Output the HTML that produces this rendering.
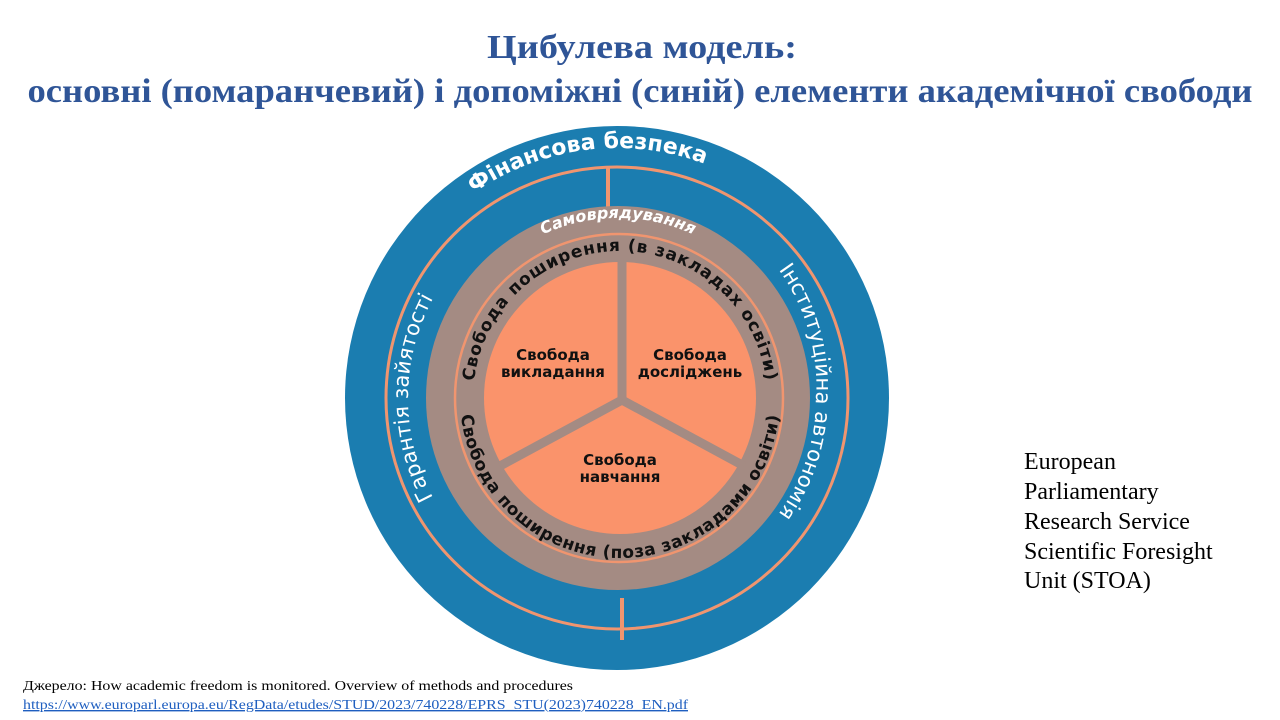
<!DOCTYPE html>
<html><head><meta charset="utf-8"><style>
html,body{margin:0;padding:0;background:#fff;}
svg{display:block}
</style></head><body>
<svg width="1280" height="720" viewBox="0 0 1280 720" xmlns="http://www.w3.org/2000/svg">
<defs>
  <path id="pFin" d="M 367 398 A 250 250 0 0 1 867 398"/>
  <path id="pGar" d="M 618 608 A 210 210 0 0 1 408 398 A 210 210 0 0 1 618 188"/>
  <path id="pInst" d="M 618 188 A 198 198 0 0 1 816 398 A 198 198 0 0 1 618 596"/>
  <path id="pSam" d="M 438 398 A 178 178 0 0 1 798 398"/>
  <path id="pTop" d="M 620 545 A 147 147 0 0 1 620 251 A 147 147 0 0 1 620 545"/>
  <path id="pBot" d="M 620 238 A 160 160 0 0 0 620 558 A 160 160 0 0 0 620 238"/>
</defs>
<g font-family="Liberation Serif, serif" font-weight="bold" fill="#2f5597">
  <text x="642" y="58" font-size="34" text-anchor="middle" textLength="310" lengthAdjust="spacingAndGlyphs">Цибулева модель:</text>
  <text x="640" y="102" font-size="34" text-anchor="middle" textLength="1225" lengthAdjust="spacingAndGlyphs">основні (помаранчевий) і допоміжні (синій) елементи академічної свободи</text>
</g>
<circle cx="617" cy="398" r="272" fill="#1b7db0"/>
<circle cx="617" cy="398" r="231" fill="none" stroke="#f0956f" stroke-width="3"/>
<line x1="608" y1="166" x2="608" y2="210" stroke="#f0956f" stroke-width="4"/>
<line x1="622" y1="598" x2="622" y2="640" stroke="#f0956f" stroke-width="4"/>
<circle cx="618" cy="398" r="192" fill="#a48b83"/>
<circle cx="619" cy="398" r="164" fill="none" stroke="#f0956f" stroke-width="2.5"/>
<circle cx="620" cy="398" r="136" fill="#fa936b"/>
<g stroke="#a48b83" stroke-width="9">
  <line x1="622" y1="400" x2="622" y2="258"/>
  <line x1="622" y1="400" x2="500" y2="466"/>
  <line x1="622" y1="400" x2="744" y2="466"/>
</g>
<g font-family="DejaVu Sans, Liberation Sans, sans-serif">
  <text font-size="22" font-weight="bold" fill="#fff"><textPath href="#pFin" startOffset="46%" text-anchor="middle">Фінансова безпека</textPath></text>
  <text font-size="21" fill="#fff"><textPath href="#pGar" startOffset="50%" text-anchor="middle">Гарантія зайятості</textPath></text>
  <text font-size="21" fill="#fff"><textPath href="#pInst" startOffset="50%" text-anchor="middle">Інституційна автономія</textPath></text>
  <text font-size="16" font-weight="bold" font-style="italic" fill="#fff"><textPath href="#pSam" startOffset="50%" text-anchor="middle">Самоврядування</textPath></text>
  <text font-size="17" font-weight="bold" fill="#111" letter-spacing="0.8"><textPath href="#pTop" startOffset="50%" text-anchor="middle">Свобода поширення (в закладах освіти)</textPath></text>
  <text font-size="17" font-weight="bold" fill="#111" letter-spacing="0.5"><textPath href="#pBot" startOffset="50%" text-anchor="middle">Свобода поширення  (поза закладами освіти)</textPath></text>
  <g font-size="15" font-weight="bold" fill="#111" text-anchor="middle">
    <text x="553" y="360">Свобода</text><text x="553" y="377">викладання</text>
    <text x="690" y="360">Свобода</text><text x="690" y="377">досліджень</text>
    <text x="620" y="465">Свобода</text><text x="620" y="482">навчання</text>
  </g>
</g>
<g font-family="Liberation Serif, serif" font-size="24" fill="#000">
  <text x="1024" y="469">European</text>
  <text x="1024" y="499">Parliamentary</text>
  <text x="1024" y="529">Research Service</text>
  <text x="1024" y="559">Scientific Foresight</text>
  <text x="1024" y="588">Unit (STOA)</text>
</g>
<g font-family="Liberation Serif, serif" font-size="14">
  <text x="23" y="690" fill="#000" textLength="550" lengthAdjust="spacingAndGlyphs">Джерело: How academic freedom is monitored. Overview of methods and procedures</text>
  <text x="23" y="709" fill="#1f5fc0" text-decoration="underline" textLength="665" lengthAdjust="spacingAndGlyphs">https://www.europarl.europa.eu/RegData/etudes/STUD/2023/740228/EPRS_STU(2023)740228_EN.pdf</text>
</g>
</svg>
</body></html>
